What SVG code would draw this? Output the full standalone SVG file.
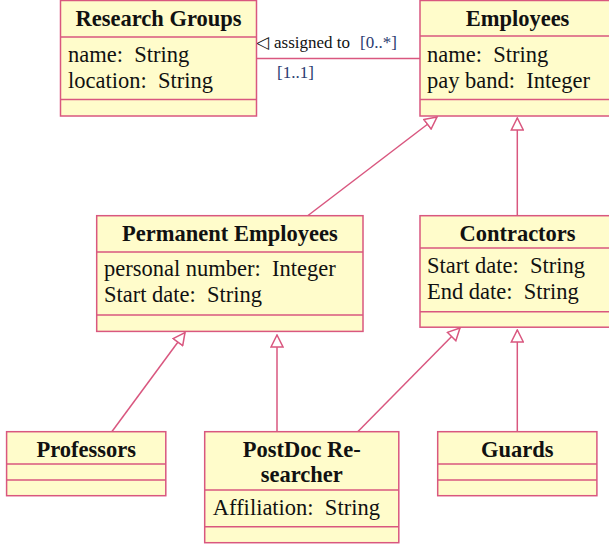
<svg xmlns="http://www.w3.org/2000/svg" width="609" height="548" viewBox="0 0 609 548">
<style>
.box{fill:#fffccb;stroke:#d9577f;stroke-width:1.5}
.sep{stroke:#d9577f;stroke-width:1.5}
.hd{font-family:"Liberation Serif","Times New Roman",serif;font-weight:bold;font-size:22.5px;fill:#111;text-anchor:middle}
.at{font-family:"Liberation Serif","Times New Roman",serif;font-size:22.5px;fill:#111}
.lb{font-family:"Liberation Serif","Times New Roman",serif;font-size:17px;fill:#111}
.mul{font-family:"Liberation Serif","Times New Roman",serif;font-size:17px;fill:#2a3a70}
.conn line{stroke:#d9577f;stroke-width:1.5;fill:none}
.gen{marker-end:url(#tri)}
</style>
<defs>
<marker id="tri" markerUnits="userSpaceOnUse" viewBox="0 0 14 14" markerWidth="14" markerHeight="14" refX="13" refY="7" orient="auto">
<path d="M1,1 L13,7 L1,13 Z" fill="#fff" stroke="#d9577f" stroke-width="1.5"/>
</marker>
</defs>

<g id="connectors" class="conn">
<line x1="256" y1="58.5" x2="420" y2="58.5"/>
<line class="gen" x1="308" y1="215.5" x2="437" y2="117"/>
<line class="gen" x1="517.3" y1="215.5" x2="517.3" y2="118"/>
<line class="gen" x1="112" y1="431.5" x2="185" y2="332.5"/>
<line class="gen" x1="277" y1="431.5" x2="277" y2="335"/>
<line class="gen" x1="358" y1="431.5" x2="460" y2="328"/>
<line class="gen" x1="517.3" y1="431.5" x2="517.3" y2="330"/>
</g>

<g id="assoc-labels">
<text class="lb" x="256" y="48" font-family="DejaVu Sans" font-size="13">◁</text>
<text class="lb" x="274" y="48">assigned to</text>
<text class="mul" x="360" y="48">[0..*]</text>
<text class="mul" x="277" y="78">[1..1]</text>
</g>

<g id="research-groups">
<rect class="box" x="60.5" y="0.5" width="196" height="115.5"/>
<line class="sep" x1="60.5" y1="37" x2="256.5" y2="37"/>
<line class="sep" x1="60.5" y1="99.5" x2="256.5" y2="99.5"/>
<text class="hd" x="158.5" y="26">Research Groups</text>
<text class="at" x="68" y="62" xml:space="preserve">name:  String</text>
<text class="at" x="68" y="88" xml:space="preserve">location:  String</text>
</g>

<g id="employees">
<rect class="box" x="420" y="0.5" width="196" height="115.5"/>
<line class="sep" x1="420" y1="36" x2="616" y2="36"/>
<line class="sep" x1="420" y1="99.5" x2="616" y2="99.5"/>
<text class="hd" x="517.5" y="26">Employees</text>
<text class="at" x="427" y="62" xml:space="preserve">name:  String</text>
<text class="at" x="427" y="88" xml:space="preserve">pay band:  Integer</text>
</g>

<g id="permanent-employees">
<rect class="box" x="96.7" y="215.7" width="266.3" height="115.7"/>
<line class="sep" x1="96.7" y1="252" x2="363" y2="252"/>
<line class="sep" x1="96.7" y1="315" x2="363" y2="315"/>
<text class="hd" x="229.9" y="241">Permanent Employees</text>
<text class="at" x="104" y="276" xml:space="preserve">personal number:  Integer</text>
<text class="at" x="104" y="302" xml:space="preserve">Start date:  String</text>
</g>

<g id="contractors">
<rect class="box" x="420" y="215.7" width="196" height="111.5"/>
<line class="sep" x1="420" y1="248" x2="616" y2="248"/>
<line class="sep" x1="420" y1="311.7" x2="616" y2="311.7"/>
<text class="hd" x="517.5" y="241">Contractors</text>
<text class="at" x="427" y="273" xml:space="preserve">Start date:  String</text>
<text class="at" x="427" y="299" xml:space="preserve">End date:  String</text>
</g>

<g id="professors">
<rect class="box" x="6.6" y="431.7" width="159.2" height="64"/>
<line class="sep" x1="6.6" y1="464" x2="165.8" y2="464"/>
<line class="sep" x1="6.6" y1="480" x2="165.8" y2="480"/>
<text class="hd" x="86.2" y="457">Professors</text>
</g>

<g id="postdoc-researcher">
<rect class="box" x="204.7" y="431.7" width="194.1" height="111"/>
<line class="sep" x1="204.7" y1="490" x2="398.8" y2="490"/>
<line class="sep" x1="204.7" y1="526.7" x2="398.8" y2="526.7"/>
<text class="hd" x="301.7" y="457">PostDoc Re-</text>
<text class="hd" x="301.7" y="482">searcher</text>
<text class="at" x="212.8" y="515" xml:space="preserve">Affiliation:  String</text>
</g>

<g id="guards">
<rect class="box" x="437.7" y="431.7" width="159.2" height="64"/>
<line class="sep" x1="437.7" y1="464" x2="596.9" y2="464"/>
<line class="sep" x1="437.7" y1="480" x2="596.9" y2="480"/>
<text class="hd" x="517.3" y="457">Guards</text>
</g>
</svg>
